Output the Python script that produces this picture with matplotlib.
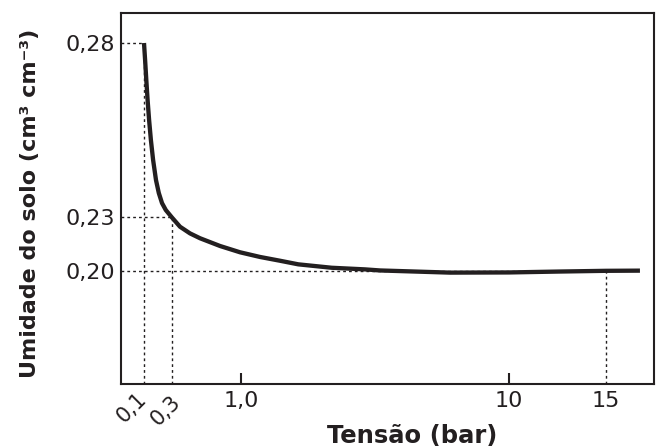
import numpy as np
import matplotlib
matplotlib.use("Agg")
import matplotlib.pyplot as plt
from matplotlib.transforms import ScaledTranslation

plt.rcParams['font.family'] = ['DejaVu Sans']

# Data: tension (bar) vs soil moisture (cm3 cm-3)
tension = [0.1, 0.1079, 0.1164, 0.1257, 0.1364, 0.1493, 0.1650, 0.1857, 0.2057,
           0.2286, 0.2557, 0.3, 0.3812, 0.4826, 0.5841, 0.787, 0.990, 1.638, 2.31,
           2.924, 4.045, 5.163, 5.67, 8.02, 10.0, 12.6, 15.0, 16.75]
moisture = [0.28, 0.2751, 0.2694, 0.2636, 0.2579, 0.2521, 0.2464, 0.2406, 0.2369,
            0.2340, 0.2320, 0.2297, 0.2246, 0.2209, 0.2182, 0.2139, 0.2104, 0.2078,
            0.2057, 0.2037, 0.2018, 0.2009, 0.2003, 0.1991, 0.1992, 0.1997, 0.2001,
            0.2002]

x_ticks = [0.1, 0.3, 1.0, 10, 15]
x_tick_labels = ['0,1', '0,3', '1,0', '10', '15']
rotated_labels = ['0,1', '0,3']
y_ticks = [0.20, 0.23, 0.28]
y_tick_labels = ['0,20', '0,23', '0,28']
guide_points = [(0.1, 0.28), (0.3, 0.23), (15, 0.20)]

# Schematic (non-uniform) axes of the original drawing: piecewise scales
XA_T = np.array([-0.5, 0.1, 0.3, 1.0, 10.0, 15.0, 25.0])
XA_P = np.array([60.0, 144.0, 172.0, 241.0, 509.0, 606.0, 800.0])
YA_M = np.array([0.05, 0.20, 0.23, 0.28, 0.40])
YA_P = np.array([-541.0, -271.0, -217.0, -43.0, 375.0])

def xf(v):
    return np.interp(v, XA_T, XA_P)
def xi(v):
    return np.interp(v, XA_P, XA_T)
def yf(v):
    return np.interp(v, YA_M, YA_P)
def yi(v):
    return np.interp(v, YA_P, YA_M)

fig = plt.figure(figsize=(6.61, 4.48), dpi=100)
ax = fig.add_axes([121/661, 1-384/448, (654-121)/661, (384-13)/448])
ax.set_xscale('function', functions=(xf, xi))
ax.set_yscale('function', functions=(yf, yi))
ax.set_xlim(xi(121), xi(654))
ax.set_ylim(yi(-384), yi(-13))

ink = '#231f20'
xl = ax.get_xlim()
yl = ax.get_ylim()
for gx, gy in guide_points:
    ax.plot([xl[0], gx], [gy, gy], ls=(0, (2, 2.2)), color=ink, lw=1.0, zorder=1)
    ax.plot([gx, gx], [yl[0], gy], ls=(0, (2, 2.2)), color=ink, lw=1.0, zorder=1)

ax.plot(tension, moisture, color=ink, lw=3.1, solid_capstyle='butt',
        solid_joinstyle='round', zorder=3)

for s in ax.spines.values():
    s.set_color(ink)
    s.set_linewidth(1.5)

ax.set_xticks(x_ticks)
ax.set_xticklabels([l if l not in rotated_labels else '' for l in x_tick_labels],
                   fontsize=16, color=ink)
ax.set_yticks(y_ticks)
ax.set_yticklabels(y_tick_labels, fontsize=16, color=ink)
ax.tick_params(axis='y', length=0, pad=4)
ax.tick_params(axis='x', direction='in', length=8, width=1.5, color=ink, pad=5)
ticks = ax.xaxis.get_major_ticks()
for i, lab in enumerate(x_tick_labels):
    if lab in rotated_labels or lab == '15':
        ticks[i].tick1line.set_visible(False)

# rotated labels for the two crowded ticks
offsets = {'0,1': (6, -5), '0,3': (12, -8)}
for xv, lab in zip(x_ticks, x_tick_labels):
    if lab in rotated_labels:
        dx, dy = offsets[lab]
        tr = ax.get_xaxis_transform() + ScaledTranslation(dx/100, dy/100, fig.dpi_scale_trans)
        ax.text(xv, 0, lab, transform=tr, rotation=45, ha='right', va='top',
                fontsize=15, color=ink)

ax.set_xlabel('Tensão (bar)', fontsize=17.5, fontweight='bold', color=ink)
ax.xaxis.set_label_coords(0.547, -0.108)
ax.set_ylabel('Umidade do solo (cm³ cm⁻³)', fontsize=16, fontweight='bold', color=ink)
ax.yaxis.set_label_coords(-0.171, 0.488)
ax.yaxis.label.set_va('center')

fig.savefig('out.png', dpi=100)
